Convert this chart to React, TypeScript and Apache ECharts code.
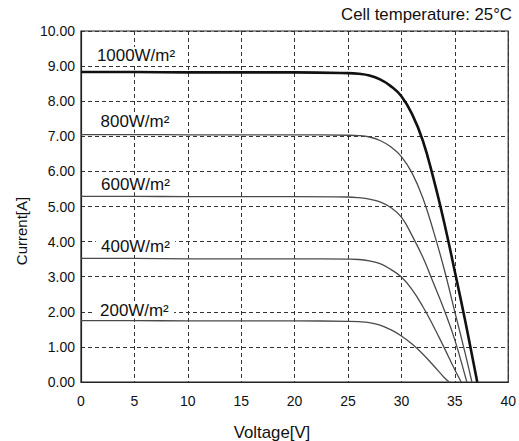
import React, { useEffect, useRef } from "react";
import * as echarts from "echarts";

const xTicks = [0, 5, 10, 15, 20, 25, 30, 35, 40];
const yTicks = [0, 1, 2, 3, 4, 5, 6, 7, 8, 9, 10];

const labels = ["1000W/m²", "800W/m²", "600W/m²", "400W/m²", "200W/m²"];

const s1000: [number, number][] = [
  [0, 8.83], [5, 8.83], [10, 8.82], [15, 8.82], [20, 8.82], [25, 8.8], [26, 8.78], [27, 8.73],
  [28, 8.62], [29, 8.43], [30, 8.14], [31, 7.63], [32, 6.88], [33, 5.8], [34, 4.55], [35, 3.15],
  [36, 1.7], [37.1, 0],
];
const s800: [number, number][] = [
  [0, 7.05], [5, 7.05], [10, 7.04], [15, 7.04], [20, 7.04], [25, 7.03], [26, 7.02], [27, 6.98],
  [28, 6.88], [29, 6.7], [30, 6.42], [31, 5.95], [32, 5.25], [33, 4.3], [34, 3.22], [35, 2.0],
  [36, 0.78], [36.6, 0],
];
const s600: [number, number][] = [
  [0, 5.29], [5, 5.29], [10, 5.28], [15, 5.28], [20, 5.28], [25, 5.27], [26, 5.25], [27, 5.21],
  [28, 5.13], [29, 4.97], [30, 4.7], [31, 4.17], [32, 3.56], [33, 2.82], [34, 2.06], [35, 1.2],
  [36, 0.14], [36.12, 0],
];
const s400: [number, number][] = [
  [0, 3.52], [5, 3.52], [10, 3.51], [15, 3.51], [20, 3.51], [25, 3.5], [26, 3.49], [27, 3.45],
  [28, 3.37], [29, 3.21], [30, 2.99], [31, 2.63], [32, 2.15], [33, 1.59], [34, 0.98], [35, 0.35],
  [35.6, 0],
];
const s200: [number, number][] = [
  [0, 1.75], [5, 1.75], [10, 1.74], [15, 1.74], [20, 1.74], [25, 1.73], [26, 1.72], [27, 1.69],
  [28, 1.62], [29, 1.49], [30, 1.31], [31, 1.08], [32, 0.8], [33, 0.47], [34, 0.13], [34.47, 0],
];

const seriesData = [s1000, s800, s600, s400, s200];
const labelX = [5.15, 5.05, 5.1, 5.1, 5.0];
const labelLift = [17, 13, 12, 12, 10];

const FONT = "'Liberation Sans', Arial, Helvetica, sans-serif";

export default function App() {
  const ref = useRef<HTMLDivElement>(null);
  useEffect(() => {
    document.body.style.margin = "0";
    const chart = echarts.init(ref.current!, undefined, { renderer: "svg" });
    const series = seriesData.map((d, i) => ({
      type: "line",
      data: d,
      showSymbol: false,
      smooth: 0.45,
      z: i === 0 ? 5 : 3,
      lineStyle: {
        color: i === 0 ? "#111" : "#4a4a4a",
        width: i === 0 ? 2.6 : 1.3,
      },
    }));
    const baseGraphic: any[] = [
      {
        type: "text",
        x: 512,
        y: 14,
        scaleX: 1.05,
        style: {
          text: "Cell temperature: 25°C",
          fill: "#111",
          font: `16px ${FONT}`,
          align: "right",
          verticalAlign: "middle",
        },
      },
      {
        type: "text",
        x: 272,
        y: 432,
        scaleX: 1.05,
        style: {
          text: "Voltage[V]",
          fill: "#111",
          font: `16px ${FONT}`,
          align: "center",
          verticalAlign: "middle",
        },
      },
      {
        type: "text",
        x: 21,
        y: 231,
        rotation: Math.PI / 2,
        style: {
          text: "Current[A]",
          fill: "#111",
          font: `15px ${FONT}`,
          align: "center",
          verticalAlign: "middle",
        },
      },
    ];
    chart.setOption({
      animation: false,
      backgroundColor: "#fff",
      grid: {
        left: 81,
        top: 31,
        width: 430,
        height: 351,
        show: true,
        borderColor: "#222",
        borderWidth: 1.2,
      },
      xAxis: {
        type: "value",
        min: xTicks[0],
        max: xTicks[xTicks.length - 1],
        interval: 5,
        axisLine: { show: true, lineStyle: { color: "#222", width: 1.2 } },
        axisTick: { show: false },
        axisLabel: { color: "#111", fontSize: 14, fontFamily: FONT, margin: 12 },
        splitLine: { show: true, lineStyle: { color: "#333", type: [4, 3], width: 1 } },
      },
      yAxis: {
        type: "value",
        min: yTicks[0],
        max: yTicks[yTicks.length - 1],
        interval: 1,
        axisLine: { show: true, lineStyle: { color: "#222", width: 1.2 } },
        axisTick: { show: false },
        axisLabel: {
          color: "#111",
          fontSize: 14,
          fontFamily: FONT,
          margin: 6,
          formatter: (v: number) => v.toFixed(2),
        },
        splitLine: { show: true, lineStyle: { color: "#333", type: [4, 3], width: 1 } },
      },
      graphic: baseGraphic,
      series,
    });
    const labelGraphic = seriesData.map((d, i) => {
      const p = chart.convertToPixel({ gridIndex: 0 }, [labelX[i], d[0][1]]) as number[];
      return {
        type: "text",
        x: p[0],
        y: p[1] - labelLift[i],
        scaleX: 1.06,
        z: 100,
        style: {
          text: labels[i],
          fill: "#111",
          font: `16px ${FONT}`,
          align: "center",
          verticalAlign: "middle",
          backgroundColor: "#fff",
          padding: [0, 5],
        },
      };
    });
    chart.setOption({ graphic: [...baseGraphic, ...labelGraphic] });
    return () => chart.dispose();
  }, []);
  return <div ref={ref} style={{ position: "absolute", left: 0, top: 0, width: 519, height: 441 }} />;
}
